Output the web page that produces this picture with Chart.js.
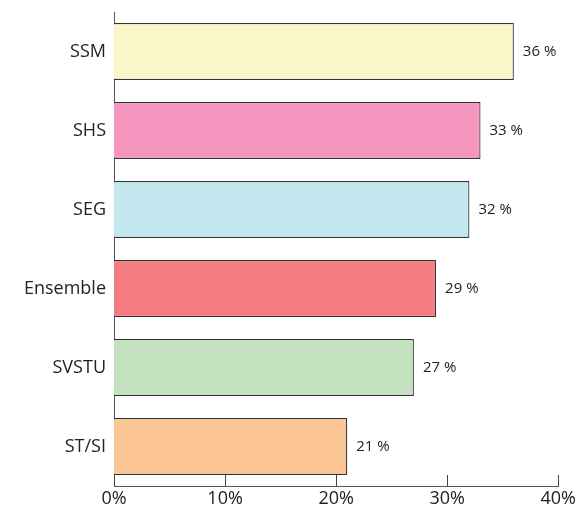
<!DOCTYPE html>
<html>
<head>
<meta charset="utf-8">
<script src="https://cdn.jsdelivr.net/npm/chart.js@4"></script>
<style>
    html, body { margin: 0; padding: 0; background: #fff; }
    #wrap { width: 578px; height: 511px; }
</style>
</head>
<body>
<div id="wrap"><canvas id="bars" width="578" height="511"></canvas></div>
<script>
// categories and values
const categories = ['SSM', 'SHS', 'SEG', 'Ensemble', 'SVSTU', 'ST/SI'];
const shares = [36, 33, 32, 29, 27, 21];
const barColors = ['#f9f6c8', '#f496be', '#c3e7ee', '#f47c80', '#c4e2c0', '#fbc694'];
const xTicks = [0, 10, 20, 30, 40];

const FONT = '"Open Sans", sans-serif';

// short tick marks pointing up into the plot, and the value next to each bar
const barDecorations = {
    id: 'barDecorations',
    afterDatasetsDraw(chart) {
        const ctx = chart.ctx;
        const xScale = chart.scales.x;
        const bottom = chart.chartArea.bottom;

        ctx.save();
        ctx.strokeStyle = '#444';
        ctx.lineWidth = 1;
        xTicks.forEach(t => {
            const px = Math.round(xScale.getPixelForValue(t)) + 0.5;
            ctx.beginPath();
            ctx.moveTo(px, bottom);
            ctx.lineTo(px, bottom - 11);
            ctx.stroke();
        });

        const meta = chart.getDatasetMeta(0);
        ctx.fillStyle = '#222';
        ctx.font = '15px ' + FONT;
        ctx.textAlign = 'left';
        ctx.textBaseline = 'middle';
        meta.data.forEach((bar, i) => {
            ctx.fillText(shares[i] + ' %', bar.x + 9, bar.y);
        });
        ctx.restore();
    }
};

const ctx = document.getElementById('bars').getContext('2d');
new Chart(ctx, {
    type: 'bar',
    data: {
        labels: categories,
        datasets: [{
            data: shares,
            backgroundColor: barColors,
            borderColor: '#333',
            borderWidth: 1.2,
            borderSkipped: 'start',
            barPercentage: 0.72,
            categoryPercentage: 1.0,
        }],
    },
    options: {
        indexAxis: 'y',
        responsive: false,
        animation: false,
        layout: { padding: { top: 12, right: 19, left: 0, bottom: 0 } },
        plugins: {
            legend: { display: false },
            tooltip: { enabled: false },
        },
        scales: {
            x: {
                min: 0,
                max: 40,
                afterBuildTicks: scale => {
                    scale.ticks = xTicks.map(v => ({ value: v }));
                },
                afterFit: scale => { scale.height = 25; },
                grid: { display: false, drawTicks: false },
                border: { display: true, color: '#555', width: 1 },
                ticks: {
                    padding: 2,
                    color: '#222',
                    font: { family: FONT, size: 18 },
                    callback: v => v + '%',
                },
            },
            y: {
                afterFit: scale => {
                    scale.width = 114;
                    scale.paddingTop = 0;
                    scale.paddingBottom = 0;
                },
                grid: { display: false, drawTicks: false },
                border: { display: true, color: '#555', width: 1 },
                ticks: {
                    padding: 8,
                    color: '#222',
                    font: { family: FONT, size: 18 },
                },
            },
        },
    },
    plugins: [barDecorations],
});
</script>
</body>
</html>
